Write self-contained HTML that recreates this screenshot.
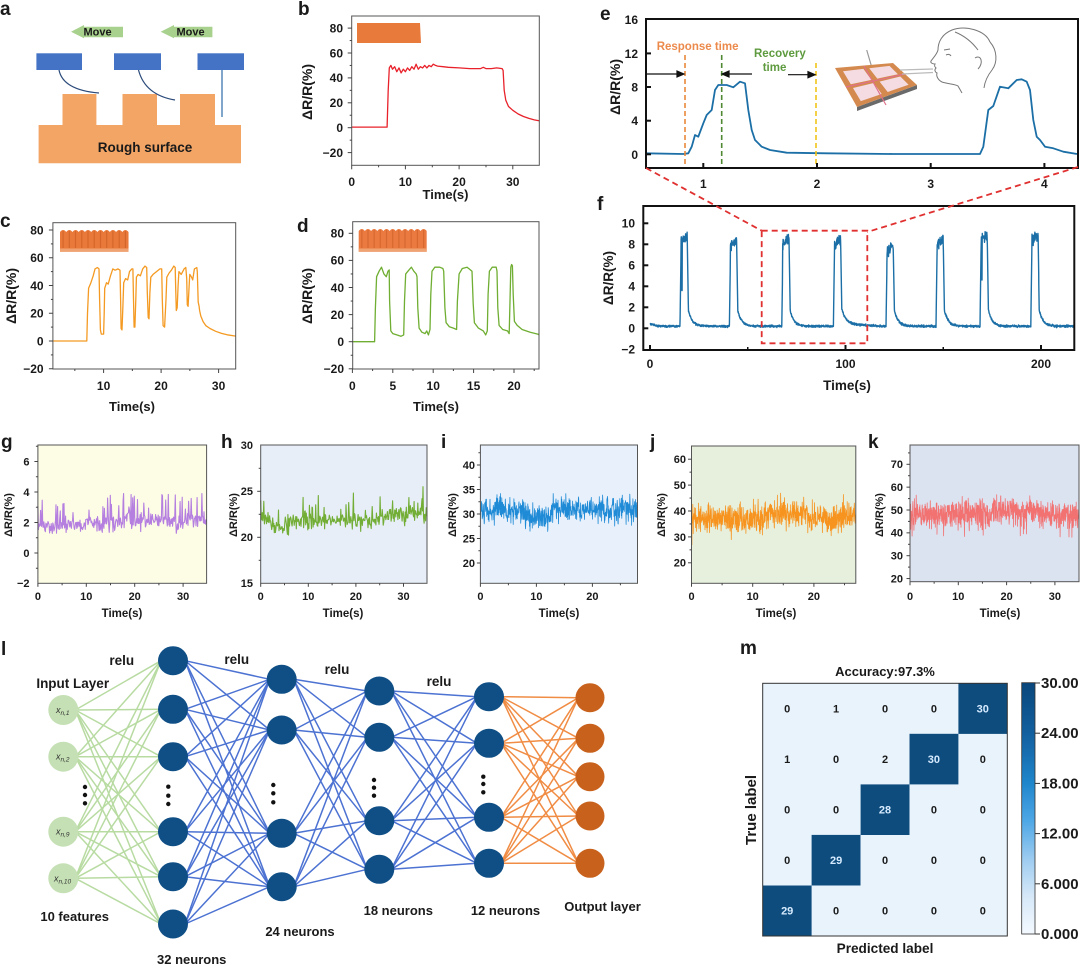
<!DOCTYPE html>
<html><head><meta charset="utf-8">
<style>
html,body{margin:0;padding:0;background:#fff;width:1080px;height:966px;overflow:hidden}
svg{display:block}
text{font-family:"Liberation Sans",Arial,sans-serif;font-weight:bold;fill:#1a1a1a}
.a12{font-size:12px}
.a11{font-size:11px}
.r{text-anchor:end}
.m{text-anchor:middle}
</style></head><body>
<svg id="s" xmlns="http://www.w3.org/2000/svg" width="1080" height="966" viewBox="0 0 1080 966">
<defs>
<linearGradient id="cbg" x1="0" y1="0" x2="0" y2="1">
<stop offset="0" stop-color="#0a477b"/>
<stop offset="0.2" stop-color="#125f9e"/>
<stop offset="0.4" stop-color="#1f86cc"/>
<stop offset="0.55" stop-color="#4ea7e6"/>
<stop offset="0.7" stop-color="#9ccbf0"/>
<stop offset="0.85" stop-color="#d6e8f8"/>
<stop offset="1" stop-color="#f4f9ff"/>
</linearGradient>
</defs>
<rect width="1080" height="966" fill="#fff"/>

<!-- ===== Panel a ===== -->
<text x="0" y="15" font-size="19">a</text>
<polygon points="71,31.7 84,25 84,26.7 123,26.7 123,37.3 84,37.3 84,38.3" fill="#a9d18e"/>
<text x="97.5" y="35.5" font-size="11" class="m" fill="#333">Move</text>
<polygon points="160.7,31.7 174,25 174,26.7 212.4,26.7 212.4,37.3 174,37.3 174,38.3" fill="#a9d18e"/>
<text x="190.5" y="35.5" font-size="11" class="m" fill="#333">Move</text>
<rect x="36.4" y="53.3" width="45.6" height="16.7" fill="#4472c4"/>
<rect x="114" y="53.3" width="47" height="16.7" fill="#4472c4"/>
<rect x="197.5" y="53.3" width="46.5" height="16.7" fill="#4472c4"/>
<path d="M38.6,125 H62.5 V94 H96.4 V125 H122.5 V94 H157 V125 H180 V94 H215 V125 H241 V163.3 H38.6Z" fill="#f3a566"/>
<path d="M59,70 Q63,90 99,93" stroke="#2b4a7a" fill="none" stroke-width="1.2"/>
<path d="M138.5,70 Q145,95 175,100" stroke="#2b4a7a" fill="none" stroke-width="1.2"/>
<line x1="222" y1="70" x2="222" y2="117" stroke="#2b6aaa" stroke-width="1.2"/>
<text x="145" y="152" font-size="13.5" class="m" fill="#2a1a0a">Rough surface</text>

<!-- ===== Panel b ===== -->
<text x="298" y="15" font-size="19">b</text>
<polygon points="357,23 420,23 421,43 357,43" fill="#e87a3c"/>
<g id="cb"></g>
<rect x="351.7" y="16" width="187.6" height="149.3" fill="none" stroke="#555" stroke-width="1"/>
<g class="a12">
<text x="343" y="32.4" class="r">80</text>
<text x="343" y="57.3" class="r">60</text>
<text x="343" y="82.2" class="r">40</text>
<text x="343" y="107.1" class="r">20</text>
<text x="343" y="132" class="r">0</text>
<text x="343" y="157" class="r">−20</text>
<text x="351.7" y="186" class="m">0</text>
<text x="405.4" y="186" class="m">10</text>
<text x="459.1" y="186" class="m">20</text>
<text x="512.8" y="186" class="m">30</text>
</g>
<text x="445.5" y="199" font-size="13" class="m">Time(s)</text>
<text transform="translate(312,92) rotate(-90)" font-size="14" class="m">ΔR/R(%)</text>

<!-- ===== Panel c ===== -->
<text x="0" y="227" font-size="19">c</text>
<g>
<path d="M60,251.7 V232 q3.1,-4 6.23,0 q3.1,-4 6.23,0 q3.1,-4 6.23,0 q3.1,-4 6.23,0 q3.1,-4 6.23,0 q3.1,-4 6.23,0 q3.1,-4 6.23,0 q3.1,-4 6.23,0 q3.1,-4 6.23,0 q3.1,-4 6.23,0 q3.1,-4 6.23,0 V251.7 Z" fill="#e9793a"/>
<g stroke="#c85a22" stroke-width="1.2" opacity="0.6">
<line x1="63.1" y1="231" x2="63.1" y2="248"/><line x1="69.3" y1="231" x2="69.3" y2="248"/><line x1="75.5" y1="231" x2="75.5" y2="248"/><line x1="81.8" y1="231" x2="81.8" y2="248"/><line x1="88" y1="231" x2="88" y2="248"/><line x1="94.2" y1="231" x2="94.2" y2="248"/><line x1="100.5" y1="231" x2="100.5" y2="248"/><line x1="106.7" y1="231" x2="106.7" y2="248"/><line x1="112.9" y1="231" x2="112.9" y2="248"/><line x1="119.2" y1="231" x2="119.2" y2="248"/><line x1="125.4" y1="231" x2="125.4" y2="248"/>
</g>
<rect x="60" y="248.5" width="68.5" height="3.2" fill="#f0a372"/>
</g>
<g id="cc"></g>
<rect x="52.9" y="222.7" width="182.8" height="146.3" fill="none" stroke="#555" stroke-width="1"/>
<g class="a12">
<text x="43.6" y="234.3" class="r">80</text>
<text x="43.6" y="262" class="r">60</text>
<text x="43.6" y="289.8" class="r">40</text>
<text x="43.6" y="317.5" class="r">20</text>
<text x="43.6" y="345.3" class="r">0</text>
<text x="43.6" y="373" class="r">−20</text>
<text x="103.6" y="390" class="m">10</text>
<text x="161.1" y="390" class="m">20</text>
<text x="218.6" y="390" class="m">30</text>
</g>
<text x="132" y="411" font-size="13" class="m">Time(s)</text>
<text transform="translate(16,296) rotate(-90)" font-size="14" class="m">ΔR/R(%)</text>

<!-- ===== Panel d ===== -->
<text x="297" y="232" font-size="19">d</text>
<g>
<path d="M358.7,251.7 V231 q3.1,-4 6.18,0 q3.1,-4 6.18,0 q3.1,-4 6.18,0 q3.1,-4 6.18,0 q3.1,-4 6.18,0 q3.1,-4 6.18,0 q3.1,-4 6.18,0 q3.1,-4 6.18,0 q3.1,-4 6.18,0 q3.1,-4 6.18,0 q3.1,-4 6.18,0 V251.7 Z" fill="#ea7a40"/>
<g stroke="#c85a22" stroke-width="1.2" opacity="0.55">
<line x1="361.8" y1="230" x2="361.8" y2="248"/><line x1="368" y1="230" x2="368" y2="248"/><line x1="374.2" y1="230" x2="374.2" y2="248"/><line x1="380.3" y1="230" x2="380.3" y2="248"/><line x1="386.5" y1="230" x2="386.5" y2="248"/><line x1="392.7" y1="230" x2="392.7" y2="248"/><line x1="398.9" y1="230" x2="398.9" y2="248"/><line x1="405" y1="230" x2="405" y2="248"/><line x1="411.2" y1="230" x2="411.2" y2="248"/><line x1="417.4" y1="230" x2="417.4" y2="248"/><line x1="423.6" y1="230" x2="423.6" y2="248"/>
</g>
<rect x="358.7" y="248.5" width="68" height="3.2" fill="#f0a372"/>
</g>
<g id="cd"></g>
<rect x="352.7" y="221.7" width="186.3" height="147.3" fill="none" stroke="#555" stroke-width="1"/>
<g class="a12">
<text x="344" y="237.6" class="r">80</text>
<text x="344" y="264.7" class="r">60</text>
<text x="344" y="291.8" class="r">40</text>
<text x="344" y="318.9" class="r">20</text>
<text x="344" y="346" class="r">0</text>
<text x="344" y="373.1" class="r">−20</text>
<text x="352.4" y="390" class="m">0</text>
<text x="392.8" y="390" class="m">5</text>
<text x="433.2" y="390" class="m">10</text>
<text x="473.6" y="390" class="m">15</text>
<text x="514" y="390" class="m">20</text>
</g>
<text x="436" y="411" font-size="13" class="m">Time(s)</text>
<text transform="translate(312,296) rotate(-90)" font-size="14" class="m">ΔR/R(%)</text>

<!-- ===== Panel e ===== -->
<text x="600" y="20" font-size="19">e</text>
<polyline fill="none" stroke="#1b6fa6" stroke-width="1.8" stroke-linejoin="round" points="646,153.3 683.3,154 688.3,153.3 691.7,146.7 695,135 698.3,136.7 703.3,123.3 706.7,115 711.7,110 715,90 718.3,85 726.7,85 733.3,87.3 740,81.7 745,83.3 748.3,110 751.7,130 755,140 758.3,143.3 761.7,146.7 770,150 786.7,152.7 826.7,153.3 893.3,154 980,154 983.3,146.7 988.3,110 993.3,106 1000,86.7 1008.3,88.3 1016.7,80 1021.7,79.3 1026.7,81.7 1030,90 1033.3,120 1036.7,136.7 1040,140 1045,146.7 1053.3,148.3 1063.3,151.7 1077,154"/>
<line x1="685" y1="55" x2="685" y2="168" stroke="#e8883a" stroke-width="1.6" stroke-dasharray="5,3"/>
<line x1="721.7" y1="55" x2="721.7" y2="168" stroke="#4f8a33" stroke-width="1.6" stroke-dasharray="5,3"/>
<line x1="816" y1="63" x2="816" y2="168" stroke="#f2c418" stroke-width="1.6" stroke-dasharray="5,3"/>
<g stroke="#111" stroke-width="1.2" fill="#111">
<line x1="646" y1="74" x2="679" y2="74"/><polygon points="684,74 677,71 677,77"/>
<line x1="752" y1="74" x2="727" y2="74"/><polygon points="722,74 729,71 729,77"/>
<line x1="788" y1="74.7" x2="810" y2="74.7"/><polygon points="815,74.7 808,71.7 808,77.7"/>
</g>
<text x="656.7" y="50" font-size="11.5" fill="#ec8a4c" style="fill:#ec8a4c">Response time</text>
<text x="754" y="57" font-size="11.5" style="fill:#5e9a3e">Recovery</text>
<text x="762.7" y="71" font-size="11.5" style="fill:#5e9a3e">time</text>
<!-- device -->
<line x1="866.7" y1="50" x2="871.7" y2="67" stroke="#999" stroke-width="1.2"/>
<polygon points="857,107 917,85 917,89 857,111" fill="#6a6a6a"/>
<polygon points="835,68 893,63 917,85 857,107" fill="#d48a4e"/>
<polygon points="843,71.2 863.4,68.9 871.4,79.9 850.8,84.3" fill="#f4dce2"/>
<polygon points="869.2,68.2 889.5,65.9 897.9,74.2 877.3,78.6" fill="#f4dce2"/>
<polygon points="853,88 873.7,83 881.7,94 860.8,101.1" fill="#f4dce2"/>
<polygon points="879.6,81.6 900.3,76.5 908.6,84.8 887.7,92" fill="#f4dce2"/>
<line x1="864" y1="66" x2="886" y2="105" stroke="#e0708a" stroke-width="1.2"/>
<line x1="846" y1="87" x2="905" y2="74" stroke="#e0708a" stroke-width="1.2"/>
<line x1="900" y1="70" x2="933" y2="69" stroke="#bbb" stroke-width="1.3"/>
<line x1="902" y1="74" x2="933" y2="72.5" stroke="#bbb" stroke-width="1.3"/>
<!-- face -->
<g fill="none" stroke="#777" stroke-width="1">
<path d="M990,42 C985,30 965,25 952,30 C942,34 938,42 938,50 C937,54 934,57 931,61 C930,63 933,64 935,64 C934,66 935,67 936,68 C934,70 935,72 937,73 C936,76 938,80 942,82 C948,84 955,84 958,86 L962,93"/>
<path d="M990,42 C997,50 998,62 992,70 C988,75 985,80 984,88"/>
<path d="M975,58 C981,54 984,63 978,69"/>
<path d="M944,50 L950,49"/>
<path d="M946,55 C948,54 950,54 951,56"/>
<path d="M955,32 C965,36 972,42 978,50"/>
</g>
<rect x="646" y="19" width="432" height="149" fill="none" stroke="#111" stroke-width="2"/>
<g class="a12">
<text x="638" y="24.2" class="r">16</text>
<text x="638" y="57.9" class="r">12</text>
<text x="638" y="91.5" class="r">8</text>
<text x="638" y="125.2" class="r">4</text>
<text x="638" y="158.8" class="r">0</text>
<text x="703.3" y="188" class="m">1</text>
<text x="817" y="188" class="m">2</text>
<text x="930.7" y="188" class="m">3</text>
<text x="1044.4" y="188" class="m">4</text>
</g>
<text transform="translate(620,87) rotate(-90)" font-size="14" class="m">ΔR/R(%)</text>

<!-- ===== Panel f ===== -->
<text x="597" y="210" font-size="19">f</text>
<g id="cf"></g>
<rect x="643.3" y="206" width="431" height="144" fill="none" stroke="#111" stroke-width="2"/>
<rect x="761.7" y="230.7" width="105.6" height="112.6" fill="none" stroke="#e03030" stroke-width="1.8" stroke-dasharray="6,4"/>
<line x1="646" y1="168" x2="761.7" y2="230.7" stroke="#e03030" stroke-width="1.8" stroke-dasharray="6,4"/>
<line x1="1078" y1="167" x2="867.3" y2="232" stroke="#e03030" stroke-width="1.8" stroke-dasharray="6,4"/>
<g class="a12">
<text x="635" y="227.6" class="r">10</text>
<text x="635" y="248.6" class="r">8</text>
<text x="635" y="269.6" class="r">6</text>
<text x="635" y="290.6" class="r">4</text>
<text x="635" y="311.6" class="r">2</text>
<text x="635" y="332.6" class="r">0</text>
<text x="635" y="353.6" class="r">−2</text>
<text x="650" y="368" class="m">0</text>
<text x="845.5" y="368" class="m">100</text>
<text x="1041" y="368" class="m">200</text>
</g>
<text x="847" y="390" font-size="13.5" class="m">Time(s)</text>
<text transform="translate(613,278) rotate(-90)" font-size="13.5" class="m">ΔR/R(%)</text>

<!-- ===== Panels g-k ===== -->
<rect x="37.9" y="445" width="168.7" height="138.3" fill="#fdfde6"/>
<rect x="260.7" y="445" width="166.3" height="138.3" fill="#e7eef8"/>
<rect x="480.4" y="445" width="157.1" height="138.3" fill="#e8f1fb"/>
<rect x="691.5" y="446" width="164.3" height="137.3" fill="#e6f0dd"/>
<rect x="910" y="445" width="169" height="136.7" fill="#dbe2f0"/>
<g id="cg"></g><g id="ch"></g><g id="ci"></g><g id="cj"></g><g id="ck"></g>
<g fill="none" stroke="#555" stroke-width="1">
<rect x="37.9" y="445" width="168.7" height="138.3"/>
<rect x="260.7" y="445" width="166.3" height="138.3"/>
<rect x="480.4" y="445" width="157.1" height="138.3"/>
<rect x="691.5" y="446" width="164.3" height="137.3"/>
<rect x="910" y="445" width="169" height="136.7"/>
</g>
<g font-size="19">
<text x="1" y="448">g</text>
<text x="221" y="448">h</text>
<text x="441" y="448">i</text>
<text x="650" y="448">j</text>
<text x="868" y="448">k</text>
</g>
<g class="a11">
<text x="29.5" y="465.4" class="r">6</text>
<text x="29.5" y="495.9" class="r">4</text>
<text x="29.5" y="526.4" class="r">2</text>
<text x="29.5" y="556.9" class="r">0</text>
<text x="29.5" y="587.2" class="r">−2</text>
<text x="37.9" y="600" class="m">0</text>
<text x="86.3" y="600" class="m">10</text>
<text x="134.7" y="600" class="m">20</text>
<text x="183.1" y="600" class="m">30</text>

<text x="253" y="449" class="r">30</text>
<text x="253" y="495" class="r">25</text>
<text x="253" y="541" class="r">20</text>
<text x="253" y="587" class="r">15</text>
<text x="260.7" y="600" class="m">0</text>
<text x="308.3" y="600" class="m">10</text>
<text x="355.9" y="600" class="m">20</text>
<text x="403.5" y="600" class="m">30</text>

<text x="475" y="468.9" class="r">40</text>
<text x="475" y="493.4" class="r">35</text>
<text x="475" y="517.9" class="r">30</text>
<text x="475" y="542.4" class="r">25</text>
<text x="475" y="566.9" class="r">20</text>
<text x="480.4" y="600" class="m">0</text>
<text x="536.4" y="600" class="m">10</text>
<text x="592.4" y="600" class="m">20</text>

<text x="686" y="463.1" class="r">60</text>
<text x="686" y="489" class="r">50</text>
<text x="686" y="514.9" class="r">40</text>
<text x="686" y="540.8" class="r">30</text>
<text x="686" y="566.7" class="r">20</text>
<text x="691.5" y="600" class="m">0</text>
<text x="752.7" y="600" class="m">10</text>
<text x="813.9" y="600" class="m">20</text>

<text x="903" y="468.2" class="r">70</text>
<text x="903" y="491" class="r">60</text>
<text x="903" y="513.9" class="r">50</text>
<text x="903" y="536.7" class="r">40</text>
<text x="903" y="559.6" class="r">30</text>
<text x="903" y="582.4" class="r">20</text>
<text x="910" y="600" class="m">0</text>
<text x="958.3" y="600" class="m">10</text>
<text x="1006.6" y="600" class="m">20</text>
<text x="1054.9" y="600" class="m">30</text>
</g>
<g font-size="11.5" class="m">
<text x="122" y="617">Time(s)</text>
<text x="343" y="617">Time(s)</text>
<text x="559" y="617">Time(s)</text>
<text x="776" y="617">Time(s)</text>
<text x="1000" y="617">Time(s)</text>
</g>
<g font-size="11" class="m">
<text transform="translate(12,515) rotate(-90)">ΔR/R(%)</text>
<text transform="translate(237,515) rotate(-90)">ΔR/R(%)</text>
<text transform="translate(456,515) rotate(-90)">ΔR/R(%)</text>
<text transform="translate(665,515) rotate(-90)">ΔR/R(%)</text>
<text transform="translate(883,515) rotate(-90)">ΔR/R(%)</text>
</g>

<g id="tk"></g>

<!-- ===== Panel l ===== -->
<text x="1" y="655" font-size="19">l</text>
<g id="nn"></g>
<g fill="#c5e0b4">
<circle cx="63.3" cy="710" r="15"/><circle cx="63.3" cy="756.7" r="15"/><circle cx="63.3" cy="831.7" r="15"/><circle cx="63.3" cy="878.3" r="15"/>
</g>
<g fill="#0f4f86">
<ellipse cx="173" cy="660.7" rx="15" ry="14.5"/><ellipse cx="173" cy="709.3" rx="15" ry="14.5"/><ellipse cx="173" cy="756.7" rx="15" ry="14.5"/><ellipse cx="173" cy="831.7" rx="15" ry="14.5"/><ellipse cx="173" cy="876.7" rx="15" ry="14.5"/><ellipse cx="173" cy="924" rx="15" ry="14.5"/>
<ellipse cx="281.7" cy="679.3" rx="15" ry="14.5"/><ellipse cx="281.7" cy="730" rx="15" ry="14.5"/><ellipse cx="281.7" cy="833.3" rx="15" ry="14.5"/><ellipse cx="281.7" cy="886.7" rx="15" ry="14.5"/>
<ellipse cx="379.3" cy="691" rx="15" ry="14.5"/><ellipse cx="379.3" cy="737.3" rx="15" ry="14.5"/><ellipse cx="379.3" cy="820.7" rx="15" ry="14.5"/><ellipse cx="379.3" cy="869.3" rx="15" ry="14.5"/>
<ellipse cx="489" cy="696.7" rx="15" ry="14.5"/><ellipse cx="489" cy="743.3" rx="15" ry="14.5"/><ellipse cx="489" cy="817.3" rx="15" ry="14.5"/><ellipse cx="489" cy="863.3" rx="15" ry="14.5"/>
</g>
<g fill="#c8611b">
<circle cx="590" cy="697.7" r="14.5"/><circle cx="590" cy="738.3" r="14.5"/><circle cx="590" cy="776.7" r="14.5"/><circle cx="590" cy="816" r="14.5"/><circle cx="590" cy="863.3" r="14.5"/>
</g>
<g fill="#111">
<circle cx="85" cy="787" r="2.2"/><circle cx="85" cy="795" r="2.2"/><circle cx="85" cy="803.3" r="2.2"/>
<circle cx="168.3" cy="786.7" r="2.2"/><circle cx="168.3" cy="795.7" r="2.2"/><circle cx="168.3" cy="804" r="2.2"/>
<circle cx="273.3" cy="785" r="2.2"/><circle cx="273.3" cy="793.3" r="2.2"/><circle cx="273.3" cy="802.3" r="2.2"/>
<circle cx="374" cy="780" r="2.2"/><circle cx="374" cy="787.7" r="2.2"/><circle cx="374" cy="795.7" r="2.2"/>
<circle cx="483.3" cy="776.7" r="2.2"/><circle cx="483.3" cy="784" r="2.2"/><circle cx="483.3" cy="792.3" r="2.2"/>
</g>
<g font-size="9" font-style="italic" style="font-weight:normal">
<text x="56" y="713" style="font-weight:normal;fill:#333">x<tspan font-size="6.5" dy="2">n,1</tspan></text>
<text x="56" y="759.7" style="font-weight:normal;fill:#333">x<tspan font-size="6.5" dy="2">n,2</tspan></text>
<text x="56" y="834.7" style="font-weight:normal;fill:#333">x<tspan font-size="6.5" dy="2">n,9</tspan></text>
<text x="54" y="881.3" style="font-weight:normal;fill:#333">x<tspan font-size="6.5" dy="2">n,10</tspan></text>
</g>
<g font-size="13.5" class="m">
<text x="121.7" y="665">relu</text>
<text x="236.7" y="664">relu</text>
<text x="337" y="674">relu</text>
<text x="439" y="686">relu</text>
<text x="72.7" y="688">Input Layer</text>
</g>
<g font-size="13" class="m">
<text x="74.7" y="921">10 features</text>
<text x="191.7" y="964">32 neurons</text>
<text x="300" y="936">24 neurons</text>
<text x="398.3" y="915">18 neurons</text>
<text x="505.5" y="915">12 neurons</text>
<text x="602.5" y="911">Output layer</text>
</g>

<!-- ===== Panel m ===== -->
<text x="740" y="654" font-size="19">m</text>
<text x="885" y="676" font-size="13" class="m">Accuracy:97.3%</text>
<rect x="762.7" y="683.3" width="244.6" height="252.7" fill="#e9f3fc"/>
<g fill="#0e4c7e">
<rect x="958.4" y="683.3" width="48.9" height="50.6"/>
<rect x="909.5" y="733.8" width="48.9" height="50.6"/>
<rect x="860.6" y="784.4" width="48.9" height="50.6"/>
<rect x="811.6" y="834.9" width="48.9" height="50.6"/>
<rect x="762.7" y="885.5" width="48.9" height="50.5"/>
</g>
<rect x="762.7" y="683.3" width="244.6" height="252.7" fill="none" stroke="#333" stroke-width="1"/>
<g font-size="11" class="m">
<text x="787.2" y="712.6">0</text><text x="836.1" y="712.6">1</text><text x="885" y="712.6">0</text><text x="933.9" y="712.6">0</text><text x="982.8" y="712.6" style="fill:#d6ebff">30</text>
<text x="787.2" y="763.1">1</text><text x="836.1" y="763.1">0</text><text x="885" y="763.1">2</text><text x="933.9" y="763.1" style="fill:#d6ebff">30</text><text x="982.8" y="763.1">0</text>
<text x="787.2" y="813.7">0</text><text x="836.1" y="813.7">0</text><text x="885" y="813.7" style="fill:#d6ebff">28</text><text x="933.9" y="813.7">0</text><text x="982.8" y="813.7">0</text>
<text x="787.2" y="864.2">0</text><text x="836.1" y="864.2" style="fill:#d6ebff">29</text><text x="885" y="864.2">0</text><text x="933.9" y="864.2">0</text><text x="982.8" y="864.2">0</text>
<text x="787.2" y="914.7" style="fill:#d6ebff">29</text><text x="836.1" y="914.7">0</text><text x="885" y="914.7">0</text><text x="933.9" y="914.7">0</text><text x="982.8" y="914.7">0</text>
</g>
<text transform="translate(756,810) rotate(-90)" font-size="15" class="m">True label</text>
<text x="885" y="953" font-size="13.6" class="m">Predicted label</text>
<rect x="1021.7" y="682.7" width="13.3" height="251.3" fill="url(#cbg)" stroke="#333" stroke-width="0.8"/>
<g font-size="15">
<text x="1041" y="688">30.00</text>
<text x="1041" y="738.2">24.00</text>
<text x="1041" y="788.4">18.00</text>
<text x="1041" y="838.6">12.00</text>
<text x="1041" y="888.8">6.000</text>
<text x="1041" y="939">0.000</text>
</g>
</svg>
<script>
(function(){
var NS="http://www.w3.org/2000/svg";
function el(parent,tag,attrs){var e=document.createElementNS(NS,tag);for(var k in attrs)e.setAttribute(k,attrs[k]);document.getElementById(parent).appendChild(e);return e;}
var seed=987654;
function R(){seed|=0;seed=seed+0x6D2B79F5|0;var t=Math.imul(seed^seed>>>15,1|seed);t=t+Math.imul(t^t>>>7,61|t)^t;return((t^t>>>14)>>>0)/4294967296;}
function G(){return (R()+R()+R()+R()-2)*1.732;}
function clamp(v,a,b){return Math.max(a,Math.min(b,v));}
function path(g,pts,X,Y,col,w){var d="";for(var i=0;i<pts.length;i++){d+=(i?"L":"M")+X(pts[i][0]).toFixed(1)+" "+Y(pts[i][1]).toFixed(1);}el(g,"path",{d:d,fill:"none",stroke:col,"stroke-width":w,"stroke-linejoin":"round"});}
function tick(x1,y1,x2,y2,c,w){el("tk","line",{x1:x1,y1:y1,x2:x2,y2:y2,stroke:c||"#444","stroke-width":w||1});}
function yT(x,arr,len,c,w){arr.forEach(function(y){tick(x,y,x-len,y,c,w);});}
function xT(y,arr,len,c,w){arr.forEach(function(x){tick(x,y,x,y+len,c,w);});}

/* b */
var bd=[[0,0.5],[6.6,0.5],[6.8,30],[7.0,48],[7.3,50],[7.6,47],[8,49],[8.4,45],[8.8,48],[9.2,44],[9.6,47],[10,45],[10.4,48],[10.8,46],[11.2,49],[11.6,47],[12,51],[12.4,47],[12.8,49],[13.2,48],[13.6,50],[14,48],[14.4,50],[14.8,49],[15.2,51],[15.6,50],[16,49.5],[17,49],[18,48.5],[20,48],[22,47.5],[24,47.5],[24.5,48.5],[25,47.5],[26,47.5],[27,48],[28,47.5],[28.2,46],[28.4,30],[28.7,22],[29.2,17],[30,14],[31,11],[32,9],[33,7.5],[34,6.3],[35,5.5]];
path("cb",bd,function(t){return 351.7+5.37*t;},function(v){return 127.7-1.245*v;},"#e8212a",1.3);

/* c */
var cd=[[1.18,0],[7.07,0],[7.2,20],[7.4,38],[7.8,42],[8.2,47],[8.5,52],[8.9,53],[9.2,52],[9.3,30],[9.45,8],[9.6,5],[10.0,5],[10.1,20],[10.2,38],[10.5,42],[10.8,41],[11.2,47],[11.6,52],[12.0,51],[12.5,52],[12.85,51],[12.95,30],[13.05,9],[13.2,8],[13.35,25],[13.5,42],[13.8,45],[14.2,44],[14.5,50],[14.9,52],[15.1,52],[15.2,30],[15.3,10],[15.45,10],[15.6,30],[15.7,46],[16.0,48],[16.4,47],[16.8,52],[17.2,54],[17.5,53],[17.6,35],[17.75,17],[17.9,16],[18.05,35],[18.2,46],[18.6,48],[19.2,50],[19.8,52],[20.1,52],[20.2,30],[20.35,11],[20.6,10],[20.85,30],[21.0,46],[21.4,49],[21.8,51],[22.2,54],[22.45,53],[22.55,35],[22.65,22],[22.8,24],[22.95,40],[23.1,50],[23.5,48],[24.0,52],[24.3,53],[24.45,45],[24.55,26],[24.7,25],[24.9,42],[25.0,48],[25.3,46],[25.5,44],[25.8,52],[26.2,53],[26.3,50],[26.45,28],[26.6,25],[26.7,22],[26.9,18],[27.3,14],[27.8,11],[28.5,9],[29.5,7],[30.5,5.5],[31.5,4.5],[33,3.5]];
path("cc",cd,function(t){return 103.6+(t-10)*5.75;},function(v){return 341-1.3875*v;},"#f49a22",1.3);

/* d */
var dd=[[0,0],[2.75,0],[2.85,25],[3.0,48],[3.3,52],[3.6,55],[3.9,50],[4.2,48],[4.4,52],[4.55,53],[4.6,30],[4.75,8],[5.0,6],[5.5,5],[6.0,4],[6.35,5],[6.45,30],[6.6,50],[7.0,53],[7.3,55],[7.6,52],[7.9,50],[8.0,48],[8.1,25],[8.25,10],[8.6,7],[9.0,6],[9.2,8],[9.4,5],[9.6,9],[9.7,35],[9.85,52],[10.2,55],[10.8,55],[11.2,54],[11.3,52],[11.45,25],[11.6,14],[12.0,11],[12.5,10],[12.9,9],[13.0,30],[13.2,50],[13.6,54],[14.2,55],[14.6,53],[14.8,52],[14.95,28],[15.1,14],[15.6,10],[16.2,8],[16.5,5],[16.7,8],[16.8,35],[16.95,52],[17.3,55],[17.8,55],[17.9,52],[18.0,25],[18.15,12],[18.6,9],[19.2,8],[19.4,6],[19.5,30],[19.6,55],[19.7,57],[19.8,56],[19.9,35],[20.05,15],[20.4,12],[21,9],[22,7],[23,5.5],[23.1,5]];
path("cd",dd,function(t){return 352.4+8.08*t;},function(v){return 341.7-1.355*v;},"#6fae32",1.3);

/* f */
(function(){
var pk=[[15.35,8.8,3.6],[40.6,8.3,0],[67.4,8.5,0],[93.8,8.5,0],[120.7,7.8,0],[146.3,8.5,0],[168.8,8.9,4.6],[194.8,8.9,0]];
var pts=[];
for(var t=0;t<=217;t+=0.1){
 var v=0.2+0.05*G();
 if(t<4)v+=0.25*(1-t/4);
 if(t>95&&t<118)v+=0.25*(1-(t-95)/23);
 for(var i=0;i<pk.length;i++){var s=pk[i][0],h=pk[i][1],dt=t-s;
  if(dt>=0&&dt<0.5){v=0.3+(h*0.8-0.3)*dt/0.5;}
  else if(dt>=0.5&&dt<3.7){v=h-0.5+0.5*(dt-0.5)/3.2+0.25*G();if(pk[i][2]&&dt>0.9&&dt<1.05)v=pk[i][2];}
  else if(dt>=3.7&&dt<4.3){v=h-(h-1.8)*(dt-3.7)/0.6;}
  else if(dt>=4.3&&dt<22){v+=1.5*Math.exp(-(dt-4.3)/2.0);}
 }
 pts.push([t,clamp(v,-0.2,9.2)]);
}
path("cf",pts,function(t){return 650+1.955*t;},function(v){return 328.3-10.5*v;},"#1b6fa6",1.4);
})();

/* g */
(function(){var pts=[];for(var t=0;t<=34.8;t+=0.11){var base=1.75+0.55*t/35;if(t>28.5&&t<30)base-=0.3;var v=base+0.28*G();if(R()<0.11)v+=0.9+0.9*R();pts.push([t,clamp(v,0.9,3.9)]);}
path("cg",pts,function(t){return 37.9+4.84*t;},function(v){return 553-15.25*v;},"#b57fe0",1.1);})();
/* h */
(function(){var pts=[];for(var t=0;t<=34.9;t+=0.11){var m=t<2?22:(t<6?21.1:(t<25?21.8:22.4));var v=m+0.45*G();if(R()<0.08)v+=1+R();if(Math.abs(t-19.5)<0.06)v=24.8;if(Math.abs(t-34.1)<0.06)v=25.5;if(t<0.1)v=24;pts.push([t,clamp(v,20.2,25.6)]);}
path("ch",pts,function(t){return 260.7+4.76*t;},function(v){return 537.3-(v-20)*9.2;},"#72ad35",1.1);})();
/* i */
(function(){var pts=[];for(var t=0;t<=28;t+=0.045){var m=t<8?30.8:(t<13?29.3:(t<20?30.8:31));var v=m+1.3*G();pts.push([t,clamp(v,25.5,35)]);}
path("ci",pts,function(t){return 480.4+5.6*t;},function(v){return 514-(v-30)*4.9;},"#1f8ad6",0.8);})();
/* j */
(function(){var pts=[];for(var t=0;t<=26.8;t+=0.035){var m=37+((t>12&&t<19)?2:0)+(t>24?1.5:0);var v=m+2.8*G();if(t<0.1)v=27;pts.push([t,clamp(v,27,48)]);}
path("cj",pts,function(t){return 691.5+6.12*t;},function(v){return 511-(v-40)*2.59;},"#f79420",0.8);})();
/* k */
(function(){var pts=[];for(var t=0;t<=34.95;t+=0.04){var m=48+((t>17&&t<27)?1.5:0);var v=m+3*G();if(R()<0.01)v=38+R()*2;pts.push([t,clamp(v,36,58)]);}
path("ck",pts,function(t){return 910+4.83*t;},function(v){return 510-(v-50)*2.285;},"#f27272",0.8);})();

/* ticks */
yT(351.7,[152.6,127.7,102.8,77.9,53,28.1],4);yT(351.7,[140.15,115.25,90.35,65.45,40.55],2);
xT(165.3,[351.7,405.4,459.1,512.8],4);xT(165.3,[378.6,432.3,486],2);
yT(52.9,[368.75,341,313.25,285.5,257.75,230],4);yT(52.9,[354.9,327.1,299.4,271.6,243.9],2);
xT(369,[103.6,161.1,218.6],4);xT(369,[74.85,132.35,189.85],2);
yT(352.7,[368.8,341.7,314.6,287.5,260.4,233.3],4);yT(352.7,[355.25,328.15,301.05,273.95,246.85],2);
xT(369,[352.4,392.8,433.2,473.6,514],4);xT(369,[372.6,413,453.4,493.8,534.2],2);
yT(646,[154.3,120.7,87,53.4],-5,"#111",2);xT(168,[703.3,817,930.7,1044.4],-5,"#111",2);
yT(643.3,[328.3,307.3,286.3,265.3,244.3,223.3],-5,"#111",2);xT(350,[650,845.5,1041],-5,"#111",2);xT(350,[747.75,943.25],-3,"#111",1.5);
yT(37.9,[553,522.5,492,461.5],3.5);yT(37.9,[568.25,537.75,507.25,476.75,446.25],2);
xT(583.3,[37.9,86.3,134.7,183.1],3.5);xT(583.3,[62.1,110.5,158.9],2);
yT(260.7,[537.3,491.3],3.5);yT(260.7,[560.3,514.3,468.3],2);
xT(583.3,[260.7,308.3,355.9,403.5],3.5);xT(583.3,[284.5,332.1,379.7],2);
yT(480.4,[563,538.5,514,489.5,465],3.5);yT(480.4,[550.75,526.25,501.75,477.25,452.75],2);
xT(583.3,[480.4,536.4,592.4],3.5);xT(583.3,[508.4,564.4,620.4],2);
yT(691.5,[562.8,536.9,511,485.1,459.2],3.5);yT(691.5,[549.85,523.95,498.05,472.15],2);
xT(583.3,[691.5,752.7,813.9],3.5);xT(583.3,[722.1,783.3,844.5],2);
yT(910,[578.55,555.7,532.85,510,487.15,464.3],3.5);yT(910,[567.1,544.3,521.4,498.6,475.7,452.9],2);
xT(581.7,[910,958.3,1006.6,1054.9],3.5);xT(581.7,[934.15,982.45,1030.75],2);
[683,733.2,783.4,833.6,883.8,934].forEach(function(y){tick(1035,y,1040,y,"#333",1);});

/* neural net lines */
var L=[[63.3,[710,756.7,831.7,878.3],15],[173,[660.7,709.3,756.7,831.7,876.7,924],15],[281.7,[679.3,730,833.3,886.7],15],[379.3,[691,737.3,820.7,869.3],15],[489,[696.7,743.3,817.3,863.3],15],[590,[697.7,738.3,776.7,816,863.3],14.5]];
var cols=["#b8dba2","#4c72d2","#4c72d2","#4c72d2","#f08c44"];
for(var l=0;l<5;l++){var A=L[l],B=L[l+1];
 A[1].forEach(function(ya){B[1].forEach(function(yb){el("nn","line",{x1:A[0]+A[2]-3,y1:ya,x2:B[0]-B[2]+3,y2:yb,stroke:cols[l],"stroke-width":1.5});});});
}
})();
</script>
</body></html>
